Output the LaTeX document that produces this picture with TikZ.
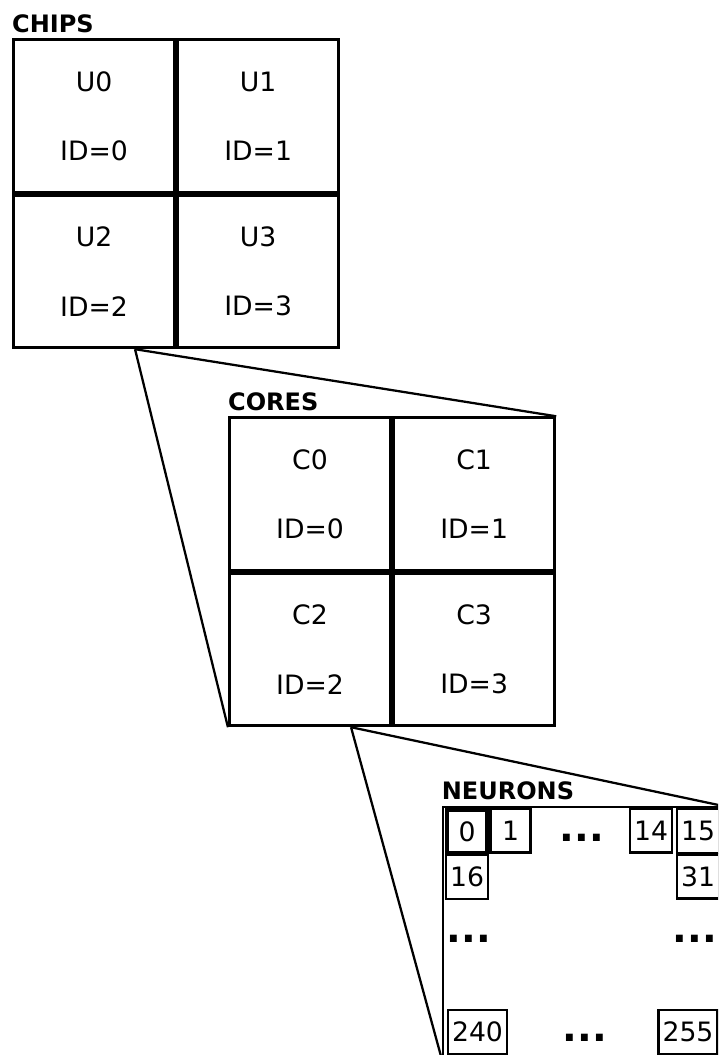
\documentclass[tikz,border=0pt]{standalone}
\usepackage{fontspec}
\setmainfont{DejaVu Sans}
\usetikzlibrary{positioning,calc}

\newcommand{\unitfont}{\fontsize{20}{52}\selectfont}
\newcommand{\titlefont}{\fontsize{18}{20}\selectfont\bfseries}

\tikzset{
  unitbox/.style={draw, line width=2.1pt, minimum width=121pt, minimum height=114.5pt,
    inner sep=0pt, align=center, font=\unitfont},
  boxtitle/.style={anchor=south west, inner sep=0pt, font=\titlefont},
  neuron/.style={draw, line width=1.8pt, minimum width=30pt, minimum height=33pt,
    inner sep=3pt, font=\unitfont},
  ellip/.style={inner sep=0pt, font=\fontsize{29}{30}\selectfont\bfseries},
  lens/.style={line width=1.7pt},
}

\begin{document}
\begin{tikzpicture}[x=0.75pt, y=-0.75pt]
  \clip (0,0) rectangle (718,1055);

  % chips
  \node[unitbox] (u0) at (94,116) {U0\\ID=0};
  \node[unitbox, right=0pt of u0] (u1) {U1\\ID=1};
  \node[unitbox, below=0pt of u0] (u2) {U2\\ID=2};
  \node[unitbox, right=0pt of u2] (u3) {U3\\ID=3};
  \node[boxtitle] (chips) at ([yshift=4pt]u0.north west) {CHIPS};

  % cores
  \node[unitbox] (c0) at (310,494) {C0\\ID=0};
  \node[unitbox, right=0pt of c0] (c1) {C1\\ID=1};
  \node[unitbox, below=0pt of c0] (c2) {C2\\ID=2};
  \node[unitbox, right=0pt of c2] (c3) {C3\\ID=3};
  \node[boxtitle] (cores) at ([yshift=4pt]c0.north west) {CORES};

  % neurons
  \node[draw, line width=2.1pt, minimum width=207.75pt, minimum height=187.5pt,
    inner sep=0pt] (nbox) at (581.5,932) {};
  \node[boxtitle] (neurons) at ([yshift=4pt]nbox.north west) {NEURONS};
  \node[neuron, line width=3.4pt] (n0) at (467,831.5) {0};
  \node[neuron] (n1) at (510.5,830.5) {1};
  \node[neuron] (n14) at (651,830.5) {14};
  \node[neuron] (n15) at (698,831) {15};
  \node[neuron] (n16) at (467,877) {16};
  \node[neuron] (n31) at (698,876.5) {31};
  \node[neuron] (n240) at (477.5,1032) {240};
  \node[neuron] (n255) at (688,1032) {255};
  \node[ellip] (dtop) at (582,838) {...};
  \node[ellip] (dleft) at (469,938.5) {...};
  \node[ellip] (dright) at (695,938.5) {...};
  \node[ellip] (dbottom) at (585,1038) {...};

  % zoom lines
  \coordinate (uzoom) at ($(u2.south west)!0.75!(u2.south east)$);
  \coordinate (czoom) at ($(c2.south west)!0.75!(c2.south east)$);
  \draw[lens] (uzoom) -- (c2.south west);
  \draw[lens] (uzoom) -- (c1.north east);
  \draw[lens] (czoom) -- (nbox.south west);
  \draw[lens] (czoom) -- (nbox.north east);
\end{tikzpicture}
\end{document}
